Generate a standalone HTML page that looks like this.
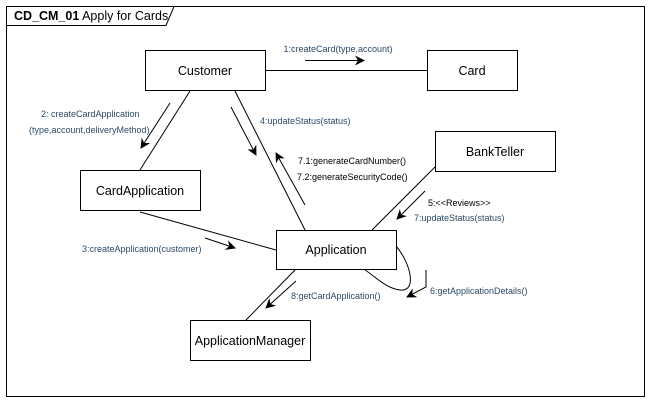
<!DOCTYPE html>
<html><head><style>body{margin:0;background:#fff}svg{display:block}</style></head><body>
<svg width="651" height="401" xmlns="http://www.w3.org/2000/svg" font-family="Liberation Sans, sans-serif">
<defs><marker id="a" markerWidth="10" markerHeight="10" refX="9" refY="5" orient="auto" markerUnits="userSpaceOnUse"><path d="M0,0 L10,5 L0,10 L3,5 Z" fill="#000"/></marker></defs>
<rect x="6.5" y="6.5" width="638" height="390" fill="#fff" stroke="#000"/>
<path d="M6.5,25.5 H166 L174,6.5" fill="none" stroke="#000"/>
<text x="14" y="20" font-size="12.5"><tspan font-weight="bold">CD_CM_01</tspan> Apply for Cards</text>
<g stroke="#000" fill="none">
<line x1="265" y1="70.5" x2="427" y2="70.5"/>
<line x1="190" y1="91" x2="140" y2="170"/>
<line x1="235" y1="91" x2="305" y2="230"/>
<line x1="435" y1="167" x2="372" y2="230"/>
<line x1="140" y1="212" x2="276" y2="250"/>
<line x1="295" y1="270" x2="246" y2="320"/>
<path d="M396,246 C410,262 418,292 400,290 C385,288 375,276 365,270"/>
<line x1="305" y1="60.5" x2="364" y2="60.5" marker-end="url(#a)"/>
<line x1="170" y1="103" x2="141" y2="148" marker-end="url(#a)"/>
<line x1="231" y1="107" x2="256" y2="155" marker-end="url(#a)"/>
<line x1="305" y1="205" x2="276" y2="153" marker-end="url(#a)"/>
<line x1="425" y1="191" x2="397" y2="219" marker-end="url(#a)"/>
<line x1="205" y1="238" x2="235" y2="248" marker-end="url(#a)"/>
<polyline points="426,270 426,287 407,297" marker-end="url(#a)"/>
<line x1="296" y1="281" x2="266" y2="308" marker-end="url(#a)"/>
</g>
<g fill="#fff" stroke="#000">
<rect x="145.5" y="50.5" width="120" height="40"/>
<rect x="427.5" y="50.5" width="90" height="40"/>
<rect x="435.5" y="131.5" width="120" height="40"/>
<rect x="80.5" y="170.5" width="120" height="40"/>
<rect x="276.5" y="230.5" width="120" height="39"/>
<rect x="190.5" y="320.5" width="120" height="40"/>
</g>
<g font-size="12.5" text-anchor="middle" fill="#000">
<text x="205" y="75">Customer</text>
<text x="472" y="75">Card</text>
<text x="495" y="156">BankTeller</text>
<text x="140" y="195">CardApplication</text>
<text x="336" y="254">Application</text>
<text x="250" y="345">ApplicationManager</text>
</g>
<g font-size="9" fill="#2a4a66">
<text x="338" y="52" text-anchor="middle">1:createCard(type,account)</text>
<text x="85" y="117" text-anchor="start" x2="">  </text>
<text x="41" y="117">2: createCardApplication</text>
<text x="29" y="133">(type,account,deliveryMethod)</text>
<text x="260" y="124">4:updateStatus(status)</text>
<text x="298" y="164" fill="#000">7.1:generateCardNumber()</text>
<text x="297" y="180" fill="#000">7.2:generateSecurityCode()</text>
<text x="428" y="206" fill="#000">5:&lt;&lt;Reviews&gt;&gt;</text>
<text x="414" y="221">7:updateStatus(status)</text>
<text x="82" y="252">3:createApplication(customer)</text>
<text x="430" y="294">6:getApplicationDetails()</text>
<text x="291" y="299">8:getCardApplication()</text>
</g>
</svg>
</body></html>
